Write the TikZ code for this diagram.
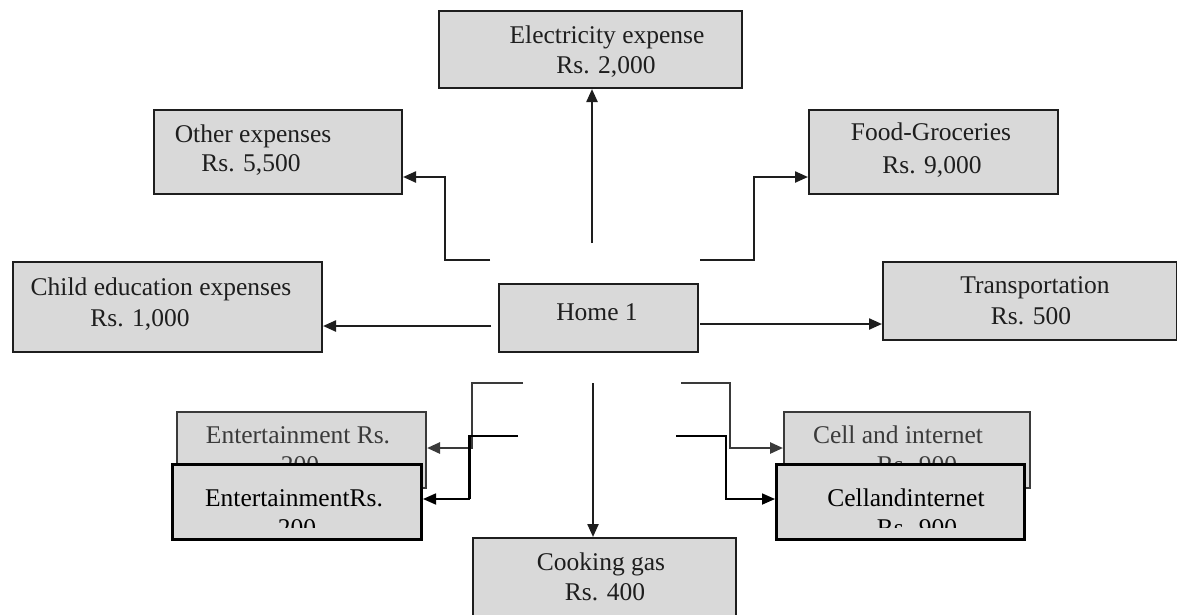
\documentclass[tikz,border=0pt]{standalone}
\usepackage{fontspec}
\setmainfont{Liberation Serif}
\usetikzlibrary{arrows.meta}
\definecolor{boxgray}{HTML}{D9D9D9}
\definecolor{ink}{HTML}{1E1E1E}
\definecolor{backink}{HTML}{3A3A3A}
\begin{document}
\begin{tikzpicture}[x=1pt,y=-1pt,
  box/.style={draw=ink,line width=2pt,fill=boxgray,inner sep=0pt,anchor=north west},
  backbox/.style={box,draw=backink},
  frontbox/.style={box,draw=black,line width=3pt},
  txt/.style={anchor=base,inner sep=0pt,text=ink,font=\fontsize{25.5}{30}\selectfont},
  backtxt/.style={txt,text=backink},
  fronttxt/.style={txt,text=black},
  tip/.style={-{Triangle[length=13pt,width=11pt]}},
  conn/.style={draw=ink,line width=2.3pt,tip},
  backconn/.style={draw=backink,line width=2.6pt,tip},
  frontconn/.style={draw=black,line width=1.7pt,tip}
]
\useasboundingbox (0,0) rectangle (1177,614);

% ---------- main boxes ----------
\node[box,minimum width=303pt,minimum height=77pt] (elec) at (438,10) {};
\node[txt] (elec1) at (607,43) {Electricity expense};
\node[txt] (elec2) at (606,73) {Rs. 2,000};

\node[box,minimum width=248pt,minimum height=84pt] (other) at (153,109) {};
\node[txt] (other1) at (253,142) {Other expenses};
\node[txt] (other2) at (251,171) {Rs. 5,500};

\node[box,minimum width=249pt,minimum height=84pt] (food) at (808,109) {};
\node[txt] (food1) at (931,140) {Food-Groceries};
\node[txt] (food2) at (932,173) {Rs. 9,000};

\node[box,minimum width=309pt,minimum height=90pt] (child) at (12,261) {};
\node[txt] (child1) at (161,295) {Child education expenses};
\node[txt] (child2) at (140,326) {Rs. 1,000};

\node[box,minimum width=199pt,minimum height=68pt] (home) at (498,283) {};
\node[txt] (home1) at (597,320) {Home 1};

\node[box,minimum width=294pt,minimum height=78pt] (trans) at (882,261) {};
\node[txt] (trans1) at (1035,293) {Transportation};
\node[txt] (trans2) at (1031,324) {Rs. 500};

\node[box,minimum width=263pt,minimum height=82pt] (gas) at (472,537) {};
\node[txt] (gas1) at (601,570) {Cooking gas};
\node[txt] (gas2) at (605,600) {Rs. 400};

% ---------- back layer ----------
\node[backbox,minimum width=249pt,minimum height=76pt] (entb) at (176,411) {};
\node[backtxt] (entb1) at (298,443) {Entertainment Rs.};
\node[backtxt] (entb2) at (300,473) {200};

\node[backbox,minimum width=246pt,minimum height=76pt] (cellb) at (783,411) {};
\node[backtxt] (cellb1) at (898,443) {Cell and internet};
\node[backtxt] (cellb2) at (917,473) {Rs. 900};

% ---------- connectors ----------
\coordinate (e0) at (592,243);
\draw[conn] (e0) -- (e0 |- elec.south);

\coordinate (o0) at (490,260);
\coordinate (o1) at (445,177);
\draw[conn] (o0) -| (o1) -- (o1 -| other.east);

\coordinate (f0) at (700,260);
\coordinate (f1) at (754,177);
\draw[conn] (f0) -| (f1) -- (f1 -| food.west);

\coordinate (c0) at (491,326);
\draw[conn] (c0) -- (c0 -| child.east);

\coordinate (t0) at (700,324);
\draw[conn] (t0) -- (t0 -| trans.west);

\coordinate (g0) at (593,383);
\draw[conn] (g0) -- (g0 |- gas.north);

\coordinate (eb0) at (523,383);
\coordinate (eb1) at (472,448);
\draw[backconn] (eb0) -| (eb1) -- (eb1 -| entb.east);

\coordinate (cb0) at (681,383);
\coordinate (cb1) at (730,448);
\draw[backconn] (cb0) -| (cb1) -- (cb1 -| cellb.west);

% ---------- front layer ----------
\node[frontbox,minimum width=249pt,minimum height=75pt] (entf) at (171,463) {};
\begin{scope}
  \clip (171,463) rectangle (420,527);
  \node[fronttxt] (entf1) at (294,506) {EntertainmentRs.};
  \node[fronttxt] (entf2) at (297,536) {200};
\end{scope}

\node[frontbox,minimum width=248pt,minimum height=75pt] (cellf) at (775,463) {};
\begin{scope}
  \clip (775,463) rectangle (1023,527);
  \node[fronttxt] (cellf1) at (906,506) {Cellandinternet};
  \node[fronttxt] (cellf2) at (917,536) {Rs. 900};
\end{scope}

\coordinate (ef0) at (518,436);
\coordinate (ef1) at (469,499);
\draw[frontconn] (ef0) -| (ef1) -- (ef1 -| entf.east);
\draw[black,line width=3pt] (469,436) -- (469,499);

\coordinate (cf0) at (676,436);
\coordinate (cf1) at (726,499);
\draw[frontconn] (cf0) -| (cf1) -- (cf1 -| cellf.west);
\end{tikzpicture}
\end{document}
